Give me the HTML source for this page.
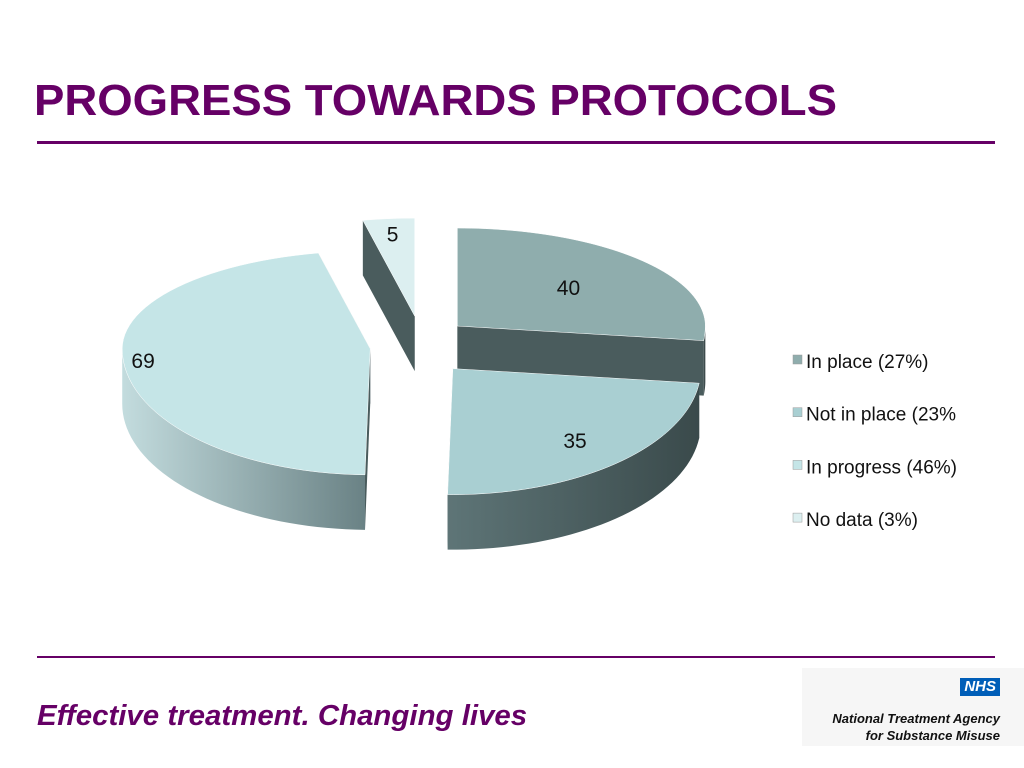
<!DOCTYPE html>
<html><head><meta charset="utf-8"><style>
body{margin:0;width:1024px;height:768px;background:#fff;position:relative;overflow:hidden;font-family:"Liberation Sans",sans-serif}
.t{position:absolute}
</style></head><body>
<div class="t" style="left:34px;top:76px;font-size:44px;font-weight:bold;color:#660066;transform:scaleX(1.035);transform-origin:left">PROGRESS TOWARDS PROTOCOLS</div>
<div class="t" style="left:37px;top:141px;width:958px;height:3px;background:#660066"></div>
<div class="t" style="left:37px;top:656px;width:958px;height:2px;background:#660066"></div>
<div class="t" style="left:37px;top:700px;font-size:29px;font-weight:bold;font-style:italic;color:#660066;transform:scaleX(1.015);transform-origin:left">Effective treatment. Changing lives</div>
<div class="t" style="left:802px;top:668px;width:222px;height:78px;background:#f6f6f6">
 <div style="position:absolute;right:24px;top:10px;background:#005eb8;color:#fff;font-weight:bold;font-style:italic;font-size:15px;padding:0 4px;line-height:18px">NHS</div>
 <div style="position:absolute;right:24px;top:42px;text-align:right;font-weight:bold;font-style:italic;font-size:13px;line-height:17px;color:#111">National Treatment Agency<br>for Substance Misuse</div>
</div>
<svg class="t" style="left:0;top:0" width="1024" height="768">
<defs>
<linearGradient id="g69" x1="0" x2="1"><stop offset="0" stop-color="#c3dcde"/><stop offset="1" stop-color="#6a8285"/></linearGradient>
<linearGradient id="g35" x1="0" x2="1"><stop offset="0" stop-color="#5e7577"/><stop offset="1" stop-color="#3a4a4b"/></linearGradient>
<linearGradient id="g40" x1="0" x2="1"><stop offset="0" stop-color="#3f4f50"/><stop offset="1" stop-color="#3a4748"/></linearGradient>
<linearGradient id="g5" x1="0" x2="1"><stop offset="0" stop-color="#4d5f60"/><stop offset="1" stop-color="#6c8284"/></linearGradient>
</defs>
<g id="pie"></g>
<g id="legend"></g>
</svg>
<script>
const categories=["In place (27%)","Not in place (23%","In progress (46%)","No data (3%)"];
const values=[40,35,69,5];
const topColors=["#8fadad","#a9cfd2","#c5e5e7","#dceff0"];
const wallFills=["url(#g40)","url(#g35)","url(#g69)","url(#g5)"];
const labelRadius=[0.6,0.75,0.92,0.85];
const cx=420,cy=346,rx=248,ryB=98,ryF=126,depth=55,ex=50;
const NS="http://www.w3.org/2000/svg";
const pie=document.getElementById('pie');
const total=values.reduce((a,b)=>a+b,0);
function pt(ox,oy,a,dy,f){f=f||1;const c=Math.cos(a);return [ox+f*rx*Math.sin(a),oy-f*(c>0?ryB:ryF)*c+(dy||0)];}
function mk(tag,attrs){const e=document.createElementNS(NS,tag);for(const k in attrs)e.setAttribute(k,attrs[k]);return e;}
let start=0;const slices=[];
values.forEach((v,i)=>{const a1=start,a2=start+v/total*2*Math.PI;start=a2;const m=(a1+a2)/2;
 const ox=cx+ex*Math.sin(m),oy=cy-ex*0.6*Math.cos(m);slices.push({i,a1,a2,m,ox,oy});});
const order=slices.slice().sort((a,b)=>(-Math.cos(a.m))-(-Math.cos(b.m)));
order.forEach(s=>{
 const g=mk('g',{});
 
 
 [s.a1,s.a2].forEach(a=>{const p=pt(s.ox,s.oy,a);
  const poly=mk('polygon',{points:`${s.ox},${s.oy} ${p[0]},${p[1]} ${p[0]},${p[1]+depth} ${s.ox},${s.oy+depth}`,fill:'#4a5c5d'});
  
  
  g.appendChild(poly);});
 const lo=Math.max(s.a1,Math.PI/2),hi=Math.min(s.a2,3*Math.PI/2);
 if(hi>lo){const N=40;let d='';
  for(let k=0;k<=N;k++){const p=pt(s.ox,s.oy,lo+(hi-lo)*k/N);d+=(k?'L':'M')+p[0]+','+p[1];}
  for(let k=N;k>=0;k--){const p=pt(s.ox,s.oy,lo+(hi-lo)*k/N,depth);d+='L'+p[0]+','+p[1];}
  const w=mk('path',{d:d+'Z',fill:wallFills[s.i]});
  
  
  g.appendChild(w);}
 const N=60;let d=`M${s.ox},${s.oy}`;
 for(let k=0;k<=N;k++){const p=pt(s.ox,s.oy,s.a1+(s.a2-s.a1)*k/N);d+='L'+p[0]+','+p[1];}
 const t=mk('path',{d:d+'Z',fill:topColors[s.i],stroke:'#ffffff','stroke-width':0.5});
 
 
 g.appendChild(t);
 const lp=pt(s.ox,s.oy,s.m,8,labelRadius[s.i]);
 const tx=mk('text',{x:lp[0],y:lp[1],'text-anchor':'middle','font-size':21,fill:'#111','font-family':'Liberation Sans, sans-serif'});
 tx.textContent=values[s.i];
 
 
 g.appendChild(tx);
 pie.appendChild(g);
});
const lg=document.getElementById('legend');
categories.forEach((c,i)=>{const y=361+i*52.7;
 const g=mk('g',{});
 
 
 g.appendChild(mk('rect',{x:793,y:y-6,width:9,height:9,fill:topColors[i],stroke:'#999','stroke-width':0.5}));
 const t=mk('text',{x:806,y:y+7,'font-size':19,fill:'#111','font-family':'Liberation Sans, sans-serif'});
 t.textContent=c;g.appendChild(t);lg.appendChild(g);});
</script>
</body></html>
